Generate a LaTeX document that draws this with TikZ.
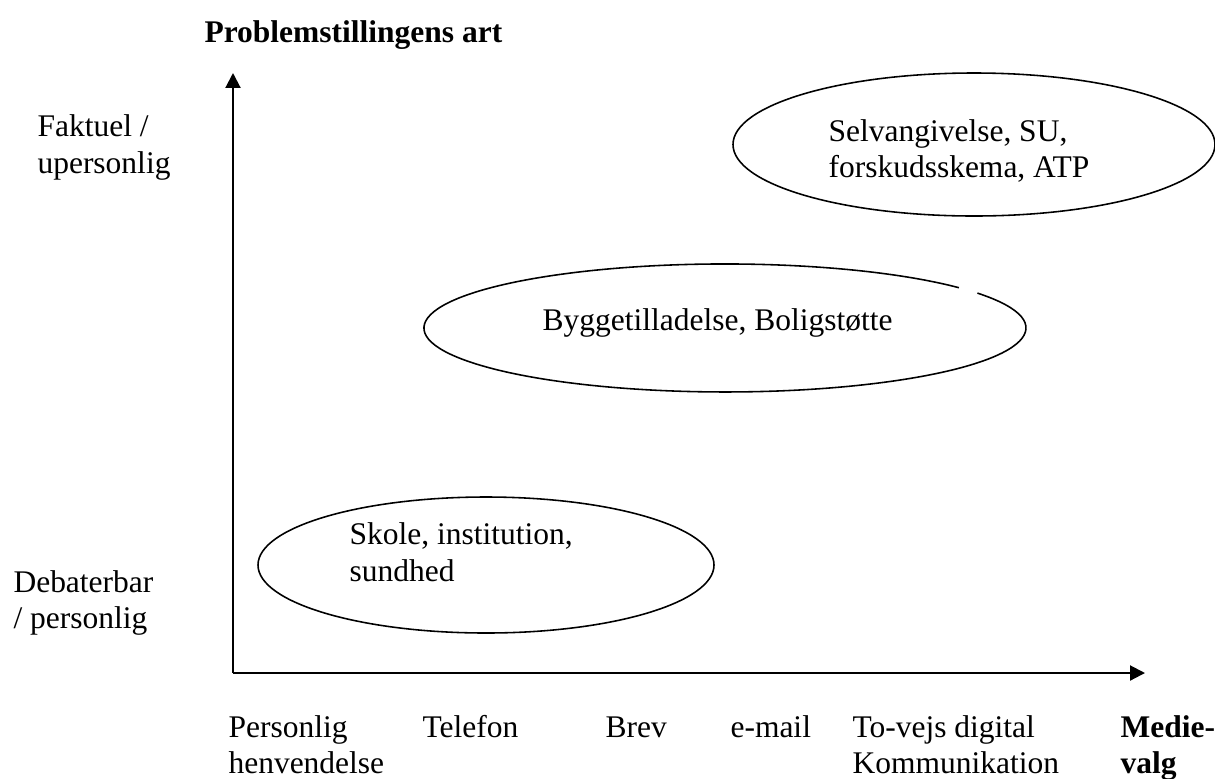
\documentclass[tikz,border=0pt]{standalone}
\usepackage{fontspec}
\setmainfont{Liberation Serif}
\usetikzlibrary{arrows.meta}
\begin{document}
\begin{tikzpicture}[x=0.381pt,y=-0.381pt,
  lbl/.style={anchor=base west,inner sep=0pt,font=\fontsize{12}{14}\selectfont},
  blbl/.style={lbl,font=\fontsize{12}{14}\selectfont\bfseries},
  axis/.style={line width=0.8pt,-{Triangle[length=5.7pt,width=5.7pt]}},
  ell/.style={line width=0.6pt}]
\useasboundingbox (0,0) rectangle (1215,778);
% axes
\coordinate (origin) at (233,673);
\coordinate (ytip) at (233,73);
\coordinate (xtip) at (1145,673);
\draw[axis] (origin) -- (ytip);
\draw[axis] (origin) -- (xtip);
% ellipses
\coordinate (topc) at (974,144.5);
\coordinate (midc) at (725,328);
\coordinate (botc) at (486,565);
\draw[ell] (topc) ellipse [x radius=241, y radius=71.5];
\draw[ell] (977.4,293.1) arc [start angle=-33, end angle=321, x radius=301, y radius=64];
\draw[ell] (botc) ellipse [x radius=228, y radius=68];
% titles
\node[blbl] (title) at (204,42) {Problemstillingens art};
\node[lbl] (fakt1) at (37,136) {Faktuel /};
\node[lbl] (fakt2) at (37,173) {upersonlig};
\node[lbl] (deb1) at (13,592) {Debaterbar};
\node[lbl] (deb2) at (13,628) {/ personlig};
% ellipse texts
\node[lbl] (selv1) at (828,141) {Selvangivelse, SU,};
\node[lbl] (selv2) at (828,177) {forskudsskema, ATP};
\node[lbl] (bygg) at (542,330) {Byggetilladelse, Boligstøtte};
\node[lbl] (skole1) at (349,544) {Skole, institution,};
\node[lbl] (skole2) at (349,581) {sundhed};
% x labels
\node[lbl] (pers1) at (228,737) {Personlig};
\node[lbl] (pers2) at (228,773) {henvendelse};
\node[lbl] (tlf) at (422,737) {Telefon};
\node[lbl] (brev) at (605,737) {Brev};
\node[lbl] (email) at (730,737) {e-mail};
\node[lbl] (tovejs1) at (852,737) {To-vejs digital};
\node[lbl] (tovejs2) at (852,773) {Kommunikation};
\node[blbl] (medie1) at (1120,737) {Medie-};
\node[blbl] (medie2) at (1120,773) {valg};
\end{tikzpicture}
\end{document}
